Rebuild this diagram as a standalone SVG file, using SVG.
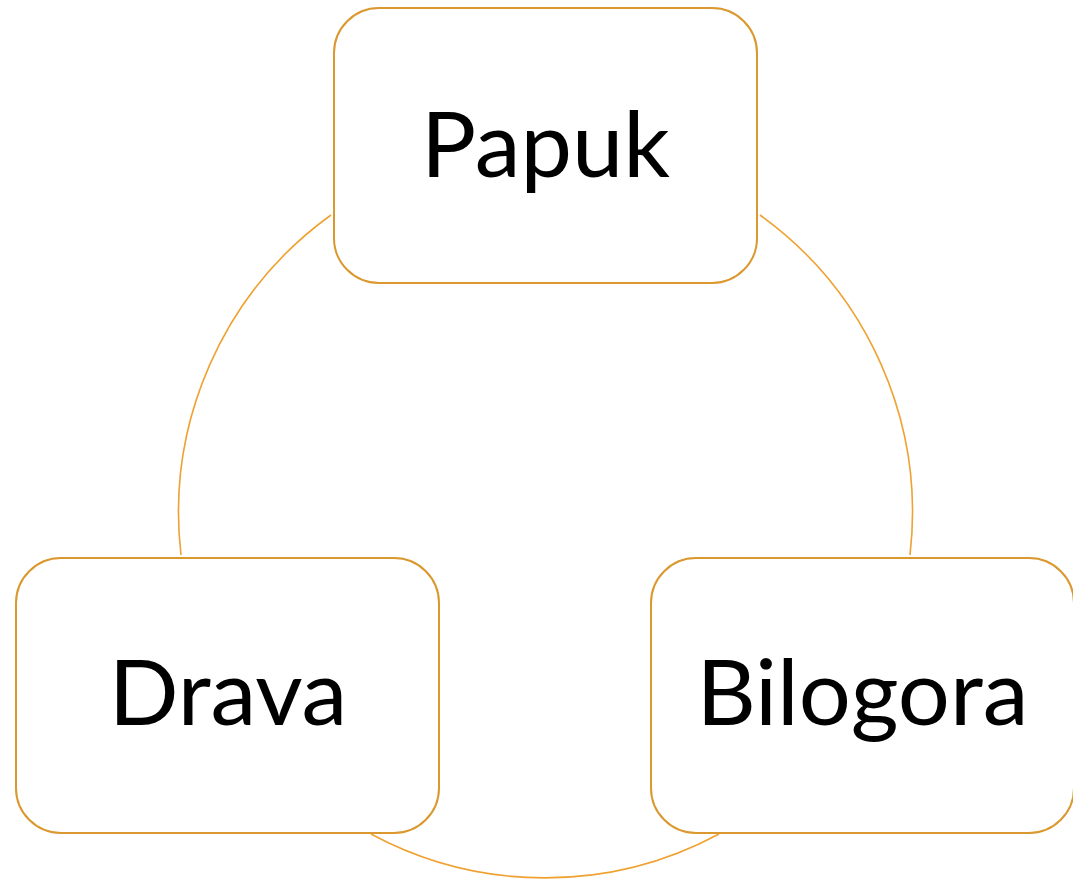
<svg xmlns="http://www.w3.org/2000/svg" width="1073" height="881" viewBox="0 0 1073 881">
<style>
.box{fill:#fff;stroke:#DA982E;stroke-width:2}
.lbl{font-family:Lato,"Open Sans",sans-serif;font-size:92px;fill:#000;text-anchor:middle}
.conn{fill:none;stroke:#EFA232;stroke-width:1.6}
</style>
<rect width="1073" height="881" fill="#fff"/>
<g id="connectors">
<path class="conn" d="M331,215 A367,367 0 0 0 181,555"/>
<path class="conn" d="M760,215 A367,367 0 0 1 910,555"/>
<path class="conn" d="M371,834 A367,367 0 0 0 719,834"/>
</g>
<g id="papuk">
<rect class="box" x="334" y="8" width="423" height="275" rx="45"/>
<text class="lbl" x="545.5" y="177">Papuk</text>
</g>
<g id="drava">
<rect class="box" x="16" y="558" width="423" height="275" rx="45"/>
<text class="lbl" x="228" y="725">Drava</text>
</g>
<g id="bilogora">
<rect class="box" x="651" y="558" width="423" height="275" rx="45"/>
<text class="lbl" x="862.5" y="725">Bilogora</text>
</g>
</svg>
